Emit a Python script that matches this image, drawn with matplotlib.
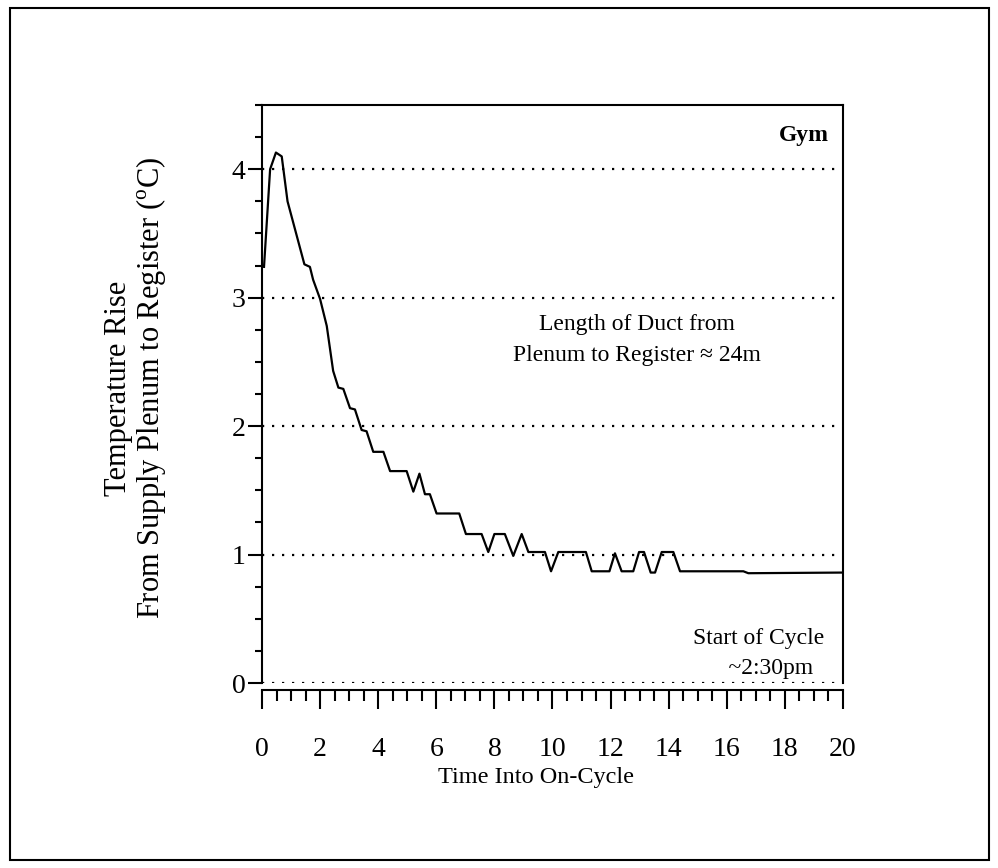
import matplotlib
matplotlib.use('Agg')
import matplotlib.pyplot as plt
from matplotlib.patches import Rectangle
from matplotlib.ticker import MultipleLocator

plt.rcParams['font.family'] = ['Liberation Serif', 'DejaVu Serif']
plt.rcParams['mathtext.fontset'] = 'custom'
plt.rcParams['mathtext.rm'] = 'Liberation Serif'

# time into on-cycle and temperature rise
t = [0.07, 0.28, 0.48, 0.68, 0.88, 1.46, 1.65, 1.76, 2.0, 2.23, 2.45, 2.63, 2.80, 3.03, 3.2,
     3.43, 3.60, 3.83, 4.18, 4.41, 4.98, 5.21, 5.42, 5.61, 5.78, 6.01, 6.79, 7.02, 7.56,
     7.79, 8.0, 8.36, 8.65, 8.94, 9.17, 9.74, 9.95, 10.2, 11.15, 11.35, 11.96, 12.15,
     12.38, 12.78, 12.98, 13.15, 13.38, 13.53, 13.76, 14.16, 14.39, 16.57, 16.74, 20.0]
rise = [3.24, 4.0, 4.13, 4.10, 3.75, 3.26, 3.24, 3.14, 2.99, 2.78, 2.43, 2.30, 2.29, 2.14, 2.13,
        1.97, 1.96, 1.80, 1.80, 1.65, 1.65, 1.49, 1.63, 1.47, 1.47, 1.32, 1.32, 1.16, 1.16,
        1.02, 1.16, 1.16, 0.99, 1.16, 1.02, 1.02, 0.87, 1.02, 1.02, 0.87, 0.87, 1.01,
        0.87, 0.87, 1.02, 1.02, 0.86, 0.86, 1.02, 1.02, 0.87, 0.87, 0.855, 0.86]

xticks = list(range(0, 21, 2))
yticks = [0, 1, 2, 3, 4]

fig = plt.figure(figsize=(9.98, 8.68), dpi=100)
ax = fig.add_axes([0.2625, 0.2131, 0.5822, 0.6659])

for y in yticks:
    ax.axhline(y, color='black', linestyle=(0, (1, 3.5)), linewidth=1.6, zorder=1)
ax.plot(t, rise, color='black', linewidth=1.6, zorder=3)

ax.set_xlim(0, 20)
ax.set_ylim(0, 4.5)
ax.set_xticks(xticks)
ax.set_yticks(yticks)
ax.xaxis.set_minor_locator(MultipleLocator(0.5))
ax.yaxis.set_minor_locator(MultipleLocator(0.25))

for spine in ax.spines.values():
    spine.set_linewidth(1.5)
ax.spines['bottom'].set_position(('outward', 5))

ax.tick_params(axis='x', which='major', direction='out', length=14, width=1.5,
               labelsize=20, pad=20)
ax.tick_params(axis='x', which='minor', direction='out', length=8, width=1.5)
ax.tick_params(axis='y', which='major', direction='out', length=10, width=1.5,
               labelsize=20, pad=2)
ax.tick_params(axis='y', which='minor', direction='out', length=5, width=1.5)

ax.text(19.5, 4.26, 'Gym', fontsize=17, fontweight='bold', ha='right', va='center')
ax.text(12.9, 2.67, 'Length of Duct from\nPlenum to Register \u2248 24m', fontsize=17,
        ha='center', va='center', linespacing=1.6)
ax.text(17.1, 0.23, 'Start of Cycle\n    ~2:30pm', fontsize=17, ha='center', va='center',
        linespacing=1.6)

fig.text(536 / 998, 1 - 778 / 868, 'Time Into On-Cycle', fontsize=17.5, ha='center', va='center')
fig.text(136 / 998, 0.553, 'Temperature Rise\nFrom Supply Plenum to Register ($^{\\mathrm{o}}$C)',
         fontsize=22, rotation=90, ha='center', va='center', multialignment='center',
         linespacing=1.05)

fig.patches.append(Rectangle((10 / 998, 8 / 868), 979 / 998, 852 / 868, transform=fig.transFigure,
                             fill=False, edgecolor='black', linewidth=1.5))

fig.savefig('out.png', dpi=100)
